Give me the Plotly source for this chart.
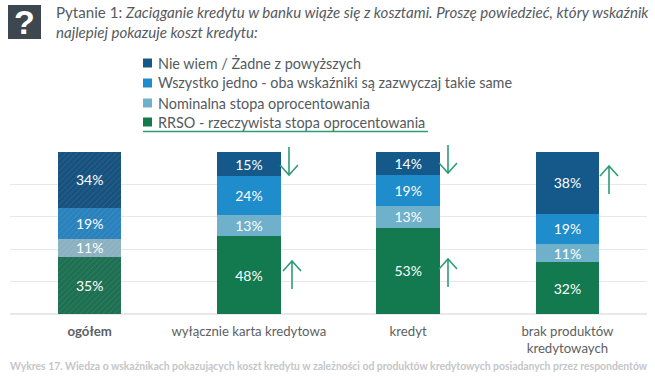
import plotly.graph_objects as go

categories = ["<b>ogółem</b>", "wyłącznie karta kredytowa", "kredyt", "brak produktów<br>kredytowaych"]
rrso = [35.2, 48, 53.3, 32]
nominalna = [11.1, 13, 13.4, 11]
wszystko = [19.2, 24, 19.1, 19]
nie_wiem = [34.5, 15, 14.2, 38]
series_names = ["RRSO - rzeczywista stopa oprocentowania", "Nominalna stopa oprocentowania",
                "Wszystko jedno - oba wskaźniki są zazwyczaj takie same", "Nie wiem / Żadne z powyższych"]
series_values = [rrso, nominalna, wszystko, nie_wiem]
series_colors = ["#137a50", "#6fb0cb", "#1f8ccb", "#14598a"]
first_bar_colors = ["#1e7052", "#8fb4c4", "#2a82bd", "#17527f"]

FONT = "Lato"
L, T, W, H = 10, 152, 637, 162
def px(x): return (x - L) / W
def py(y): return 1 - (y - T) / H

fig = go.Figure()
for name, vals, col, first in zip(series_names, series_values, series_colors, first_bar_colors):
    fig.add_trace(go.Bar(
        x=categories, y=vals, name=name, width=0.4,
        marker=dict(color=[first, col, col, col], line_width=0,
                    pattern=dict(shape=["/", "", "", ""], fgcolor="white", fgopacity=0.12,
                                 size=4, solidity=0.2, fillmode="overlay")),
        text=[f"{v:.0f}%" for v in vals], textposition="inside", insidetextanchor="middle",
        textangle=0, constraintext="none", textfont=dict(color="white", size=14, family=FONT),
        hoverinfo="skip"))

fig.update_layout(
    width=655, height=378, barmode="stack", plot_bgcolor="white", paper_bgcolor="white", showlegend=False,
    margin=dict(l=L, r=655 - L - W, t=T, b=378 - T - H, autoexpand=False), font=dict(family=FONT, color="#555a60"),
    xaxis=dict(showline=False, ticks="", tickangle=0, tickfont=dict(size=13.2, color="#5c5f63", family=FONT), ticklabelstandoff=8,
               automargin=False),
    yaxis=dict(range=[0, 100], dtick=20, showticklabels=False, gridcolor="#e8e8e8", gridwidth=1,
               zeroline=True, zerolinecolor="#e8e8e8", fixedrange=True, automargin=False),
)

# Question header
fig.add_shape(type="rect", xref="paper", yref="paper", x0=px(8), x1=px(41), y0=py(39), y1=py(5),
              fillcolor="#3c4750", line_width=0)
fig.add_annotation(xref="paper", yref="paper", x=px(24.5), y=py(22), xanchor="center", yanchor="middle",
                   text="<b>?</b>", showarrow=False,
                   font=dict(size=34, color="white", family="Liberation Sans"))
fig.add_annotation(xref="paper", yref="paper", xanchor="left", yanchor="top", align="left",
                   x=px(54), y=py(1), showarrow=False,
                   text="Pytanie 1: <i>Zaciąganie kredytu w banku wiąże się z kosztami. Proszę powiedzieć, który wskaźnik<br>najlepiej pokazuje koszt kredytu:</i>",
                   font=dict(size=15.1, color="#555a60", family=FONT))

# Legend rows (top to bottom)
legend_rows = [63, 83, 103, 122]
for name, col, y in zip(series_names[::-1], series_colors[::-1], legend_rows):
    fig.add_shape(type="rect", xref="paper", yref="paper", x0=px(143), x1=px(152), y0=py(y + 4.5), y1=py(y - 4.5),
                  fillcolor=col, line_width=0)
    fig.add_annotation(xref="paper", yref="paper", x=px(156), y=py(y), xanchor="left", yanchor="middle",
                       text=name, showarrow=False, font=dict(size=14.4, color="#555a60", family=FONT))
# Legend underline
fig.add_shape(type="line", xref="paper", yref="paper", x0=px(143), x1=px(428), y0=py(131.5), y1=py(131.5),
              line=dict(color="#2f9c78", width=1.5))
# Caption
fig.add_annotation(xref="paper", yref="paper", xanchor="left", yanchor="middle", x=px(8), y=py(366),
                   showarrow=False,
                   text="<b>Wykres 17. Wiedza o wskaźnikach pokazujących koszt kredytu w zależności od produktów kredytowych posiadanych przez respondentów</b>",
                   font=dict(size=10.4, color="#c4c6c8", family=FONT))

# Trend arrows: x in px, tip y in px, direction (+1 = up)
arrows = [(289, 175, -1), (292, 261, 1), (448, 173, -1), (448, 259, 1), (609, 166, 1)]
for x, tip, d in arrows:
    tail = tip + 28 * d
    wing = tip + 10 * d
    fig.add_shape(type="path", xref="paper", yref="paper", layer="above",
                  path=f"M{px(x)},{py(tail)} L{px(x)},{py(tip)} M{px(x-9)},{py(wing)} L{px(x)},{py(tip)} L{px(x+9)},{py(wing)}",
                  line=dict(color="#2f9c78", width=1.6))

fig.write_html("out.html", config=dict(displayModeBar=False), post_script="document.body.style.margin='0';")
